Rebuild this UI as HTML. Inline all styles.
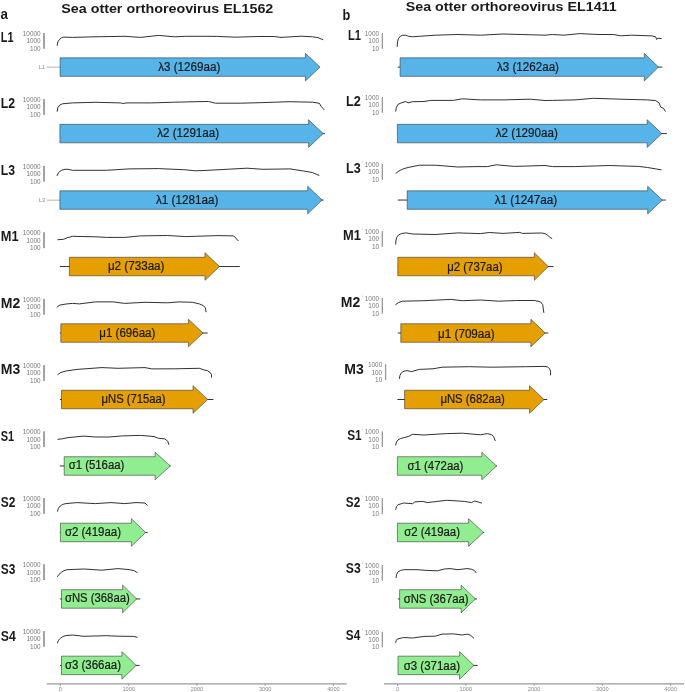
<!DOCTYPE html>
<html><head><meta charset="utf-8"><title>Sea otter orthoreovirus</title>
<style>
html,body{margin:0;padding:0;background:#fff;}
body{width:685px;height:692px;overflow:hidden;}
svg{display:block;will-change:transform;}
text{font-family:"Liberation Sans", sans-serif;}
</style></head><body>
<svg width="685" height="692" viewBox="0 0 685 692">
<rect x="0" y="0" width="685" height="692" fill="#fff"/>

<text x="0.6" y="18.6" font-size="14.6" font-weight="bold" fill="#1a1a1a" textLength="7.4" lengthAdjust="spacingAndGlyphs">a</text>
<text x="342.4" y="19.8" font-size="14.6" font-weight="bold" fill="#1a1a1a" textLength="7.8" lengthAdjust="spacingAndGlyphs">b</text>
<text x="61.3" y="13.1" font-size="13.2" font-weight="bold" fill="#1a1a1a" textLength="212" lengthAdjust="spacingAndGlyphs">Sea otter orthoreovirus EL1562</text>
<text x="405.7" y="10.7" font-size="13.2" font-weight="bold" fill="#1a1a1a" textLength="211" lengthAdjust="spacingAndGlyphs">Sea otter orthoreovirus EL1411</text>
<text x="0.8" y="41.60" font-size="14" font-weight="bold" fill="#1a1a1a" textLength="12.8" lengthAdjust="spacingAndGlyphs">L1</text>
<text x="40.6" y="36.00" font-size="6.4" fill="#777" text-anchor="end">10000</text>
<text x="40.6" y="43.30" font-size="6.4" fill="#777" text-anchor="end">1000</text>
<text x="40.6" y="50.60" font-size="6.4" fill="#777" text-anchor="end">100</text>
<rect x="43.10" y="33.00" width="1.8" height="15.8" fill="#999"/>
<polyline points="57.20,45.40 57.80,42.00 59.50,39.30 61.50,37.80 63.60,37.10 72.60,37.40 95.00,36.80 125.00,36.30 140.50,37.40 158.60,35.40 174.40,36.80 185.70,36.30 205.00,36.30 217.60,36.40 235.70,37.20 258.30,36.50 274.20,36.50 281.00,37.40 301.30,36.20 312.60,36.80 318.00,37.60 322.80,39.70" fill="none" stroke="#1a1a1a" stroke-width="0.9" stroke-linejoin="round" stroke-linecap="round"/>
<line x1="46.7" y1="67.20" x2="60" y2="67.20" stroke="#bbb" stroke-width="1.1"/>
<text x="45.0" y="69.20" font-size="5.6" fill="#888" text-anchor="end">L1</text>
<path d="M60.10,57.85 L305.40,57.85 L305.40,53.30 L320.00,67.10 L305.40,80.90 L305.40,76.35 L60.10,76.35 Z" fill="#56B4E9" stroke="#383838" stroke-width="0.6" stroke-linejoin="miter"/>
<text x="158.2" y="70.80" font-size="12" fill="#1a1a1a" stroke="#1a1a1a" stroke-width="0.22" textLength="62.10" lengthAdjust="spacingAndGlyphs">λ3 (1269aa)</text>
<text x="0.8" y="107.80" font-size="14" font-weight="bold" fill="#1a1a1a" textLength="14.3" lengthAdjust="spacingAndGlyphs">L2</text>
<text x="40.6" y="102.10" font-size="6.4" fill="#777" text-anchor="end">10000</text>
<text x="40.6" y="109.40" font-size="6.4" fill="#777" text-anchor="end">1000</text>
<text x="40.6" y="116.70" font-size="6.4" fill="#777" text-anchor="end">100</text>
<rect x="43.10" y="99.10" width="1.8" height="15.8" fill="#999"/>
<polyline points="57.20,111.20 57.80,107.80 59.50,105.20 62.40,103.80 72.60,102.90 95.20,102.30 120.50,102.90 122.40,103.50 126.90,102.90 151.80,102.90 174.40,102.20 205.00,101.50 208.60,101.50 215.40,103.20 240.20,103.20 262.90,102.60 290.00,101.70 312.60,102.20 319.40,103.30 321.20,106.50 324.00,109.60" fill="none" stroke="#1a1a1a" stroke-width="0.9" stroke-linejoin="round" stroke-linecap="round"/>
<line x1="59.9" y1="133.58" x2="324.9" y2="133.58" stroke="#333" stroke-width="1.0"/>
<path d="M59.90,124.33 L308.60,124.33 L308.60,119.78 L323.20,133.58 L308.60,147.38 L308.60,142.83 L59.90,142.83 Z" fill="#56B4E9" stroke="#383838" stroke-width="0.6" stroke-linejoin="miter"/>
<text x="157.2" y="136.78" font-size="12" fill="#1a1a1a" stroke="#1a1a1a" stroke-width="0.22" textLength="61.90" lengthAdjust="spacingAndGlyphs">λ2 (1291aa)</text>
<text x="0.8" y="174.80" font-size="14" font-weight="bold" fill="#1a1a1a" textLength="14.3" lengthAdjust="spacingAndGlyphs">L3</text>
<text x="40.6" y="168.90" font-size="6.4" fill="#777" text-anchor="end">10000</text>
<text x="40.6" y="176.20" font-size="6.4" fill="#777" text-anchor="end">1000</text>
<text x="40.6" y="183.50" font-size="6.4" fill="#777" text-anchor="end">100</text>
<rect x="43.10" y="165.90" width="1.8" height="15.8" fill="#999"/>
<polyline points="57.20,175.60 58.50,172.60 61.30,170.40 65.00,169.30 68.10,169.30 72.60,170.30 106.60,170.30 129.20,168.90 158.60,168.60 185.70,169.80 195.00,170.80 206.30,170.40 247.00,168.20 262.90,169.30 290.00,168.90 303.60,171.00 312.60,172.60 319.00,175.40" fill="none" stroke="#1a1a1a" stroke-width="0.9" stroke-linejoin="round" stroke-linecap="round"/>
<line x1="46.7" y1="200.16" x2="60" y2="200.16" stroke="#bbb" stroke-width="1.1"/>
<text x="45.0" y="202.16" font-size="5.6" fill="#888" text-anchor="end">L3</text>
<line x1="59.9" y1="200.06" x2="323.7" y2="200.06" stroke="#333" stroke-width="1.0"/>
<path d="M59.90,190.81 L307.70,190.81 L307.70,186.26 L322.10,200.06 L307.70,213.86 L307.70,209.31 L59.90,209.31 Z" fill="#56B4E9" stroke="#383838" stroke-width="0.6" stroke-linejoin="miter"/>
<text x="155.9" y="203.76" font-size="12" fill="#1a1a1a" stroke="#1a1a1a" stroke-width="0.22" textLength="62.40" lengthAdjust="spacingAndGlyphs">λ1 (1281aa)</text>
<text x="0.8" y="241.30" font-size="14" font-weight="bold" fill="#1a1a1a" textLength="17.8" lengthAdjust="spacingAndGlyphs">M1</text>
<text x="40.6" y="235.30" font-size="6.4" fill="#777" text-anchor="end">10000</text>
<text x="40.6" y="242.60" font-size="6.4" fill="#777" text-anchor="end">1000</text>
<text x="40.6" y="249.90" font-size="6.4" fill="#777" text-anchor="end">100</text>
<rect x="43.10" y="232.30" width="1.8" height="15.8" fill="#999"/>
<polyline points="57.90,239.70 63.60,239.30 67.00,237.80 72.60,236.30 95.20,236.80 106.60,237.40 124.70,237.40 140.50,235.90 167.60,235.50 185.70,236.60 195.20,236.30 217.90,235.60 233.70,235.90 238.20,240.80" fill="none" stroke="#1a1a1a" stroke-width="0.9" stroke-linejoin="round" stroke-linecap="round"/>
<line x1="59.9" y1="266.54" x2="239.8" y2="266.54" stroke="#333" stroke-width="1.0"/>
<path d="M69.40,257.29 L205.00,257.29 L205.00,252.74 L219.50,266.54 L205.00,280.34 L205.00,275.79 L69.40,275.79 Z" fill="#E69F00" stroke="#383838" stroke-width="0.6" stroke-linejoin="miter"/>
<text x="107.9" y="270.44" font-size="12" fill="#1a1a1a" stroke="#1a1a1a" stroke-width="0.22" textLength="56.60" lengthAdjust="spacingAndGlyphs">μ2 (733aa)</text>
<text x="0.8" y="307.80" font-size="14" font-weight="bold" fill="#1a1a1a" textLength="19.5" lengthAdjust="spacingAndGlyphs">M2</text>
<text x="40.6" y="301.90" font-size="6.4" fill="#777" text-anchor="end">10000</text>
<text x="40.6" y="309.20" font-size="6.4" fill="#777" text-anchor="end">1000</text>
<text x="40.6" y="316.50" font-size="6.4" fill="#777" text-anchor="end">100</text>
<rect x="43.10" y="298.90" width="1.8" height="15.8" fill="#999"/>
<polyline points="57.20,307.30 58.50,305.70 60.20,305.00 66.00,304.00 72.60,303.40 79.40,303.90 95.20,301.90 113.30,301.90 124.70,303.40 145.00,302.30 167.60,302.80 179.00,301.90 192.50,302.30 199.30,303.90 203.00,305.50 205.30,307.50 206.10,311.80" fill="none" stroke="#1a1a1a" stroke-width="0.9" stroke-linejoin="round" stroke-linecap="round"/>
<line x1="59.9" y1="333.02" x2="207.7" y2="333.02" stroke="#333" stroke-width="1.0"/>
<path d="M60.80,323.77 L188.40,323.77 L188.40,319.22 L203.00,333.02 L188.40,346.82 L188.40,342.27 L60.80,342.27 Z" fill="#E69F00" stroke="#383838" stroke-width="0.6" stroke-linejoin="miter"/>
<text x="99.3" y="337.32" font-size="12" fill="#1a1a1a" stroke="#1a1a1a" stroke-width="0.22" textLength="56.10" lengthAdjust="spacingAndGlyphs">μ1 (696aa)</text>
<text x="0.8" y="374.40" font-size="14" font-weight="bold" fill="#1a1a1a" textLength="19.5" lengthAdjust="spacingAndGlyphs">M3</text>
<text x="40.6" y="368.10" font-size="6.4" fill="#777" text-anchor="end">10000</text>
<text x="40.6" y="375.40" font-size="6.4" fill="#777" text-anchor="end">1000</text>
<text x="40.6" y="382.70" font-size="6.4" fill="#777" text-anchor="end">100</text>
<rect x="43.10" y="365.10" width="1.8" height="15.8" fill="#999"/>
<polyline points="57.90,374.60 60.50,372.60 65.80,371.00 77.10,369.40 102.00,367.60 117.90,368.30 145.00,367.60 151.80,368.90 174.40,368.80 199.30,368.30 203.80,369.90 207.50,370.70 210.30,372.60 211.40,374.50 211.60,377.30" fill="none" stroke="#1a1a1a" stroke-width="0.9" stroke-linejoin="round" stroke-linecap="round"/>
<line x1="59.9" y1="399.50" x2="213.4" y2="399.50" stroke="#333" stroke-width="1.0"/>
<path d="M61.50,390.25 L193.00,390.25 L193.00,385.70 L207.70,399.50 L193.00,413.30 L193.00,408.75 L61.50,408.75 Z" fill="#E69F00" stroke="#383838" stroke-width="0.6" stroke-linejoin="miter"/>
<text x="101.6" y="402.80" font-size="12" fill="#1a1a1a" stroke="#1a1a1a" stroke-width="0.22" textLength="64.00" lengthAdjust="spacingAndGlyphs">μNS (715aa)</text>
<text x="0.8" y="440.70" font-size="14" font-weight="bold" fill="#1a1a1a" textLength="13.4" lengthAdjust="spacingAndGlyphs">S1</text>
<text x="40.6" y="434.30" font-size="6.4" fill="#777" text-anchor="end">10000</text>
<text x="40.6" y="441.60" font-size="6.4" fill="#777" text-anchor="end">1000</text>
<text x="40.6" y="448.90" font-size="6.4" fill="#777" text-anchor="end">100</text>
<rect x="43.10" y="431.30" width="1.8" height="15.8" fill="#999"/>
<polyline points="57.90,439.30 62.40,438.80 68.10,437.60 83.90,436.10 95.20,437.00 108.80,437.00 122.40,435.90 140.50,435.40 154.10,436.50 158.60,438.30 164.30,438.80 166.50,440.00 167.80,441.50 168.80,444.50" fill="none" stroke="#1a1a1a" stroke-width="0.9" stroke-linejoin="round" stroke-linecap="round"/>
<line x1="59.9" y1="465.98" x2="170.6" y2="465.98" stroke="#333" stroke-width="1.0"/>
<path d="M64.20,456.73 L155.10,456.73 L155.10,452.18 L170.30,465.98 L155.10,479.78 L155.10,475.23 L64.20,475.23 Z" fill="#90EE90" stroke="#383838" stroke-width="0.6" stroke-linejoin="miter"/>
<text x="68.7" y="468.98" font-size="12" fill="#1a1a1a" stroke="#1a1a1a" stroke-width="0.22" textLength="55.70" lengthAdjust="spacingAndGlyphs">σ1 (516aa)</text>
<text x="0.8" y="507.40" font-size="14" font-weight="bold" fill="#1a1a1a" textLength="14.6" lengthAdjust="spacingAndGlyphs">S2</text>
<text x="40.6" y="501.00" font-size="6.4" fill="#777" text-anchor="end">10000</text>
<text x="40.6" y="508.30" font-size="6.4" fill="#777" text-anchor="end">1000</text>
<text x="40.6" y="515.60" font-size="6.4" fill="#777" text-anchor="end">100</text>
<rect x="43.10" y="498.00" width="1.8" height="15.8" fill="#999"/>
<polyline points="57.50,511.20 58.30,508.50 60.20,506.00 62.50,504.50 65.80,503.60 77.10,502.60 83.90,503.00 95.20,503.60 111.10,502.60 124.70,503.60 136.00,502.60 145.00,503.00 147.30,505.30" fill="none" stroke="#1a1a1a" stroke-width="0.9" stroke-linejoin="round" stroke-linecap="round"/>
<line x1="59.9" y1="532.46" x2="147.6" y2="532.46" stroke="#333" stroke-width="1.0"/>
<path d="M60.40,523.21 L131.40,523.21 L131.40,518.66 L145.50,532.46 L131.40,546.26 L131.40,541.71 L60.40,541.71 Z" fill="#90EE90" stroke="#383838" stroke-width="0.6" stroke-linejoin="miter"/>
<text x="64.9" y="535.96" font-size="12" fill="#1a1a1a" stroke="#1a1a1a" stroke-width="0.22" textLength="56.10" lengthAdjust="spacingAndGlyphs">σ2 (419aa)</text>
<text x="0.8" y="574.30" font-size="14" font-weight="bold" fill="#1a1a1a" textLength="14.6" lengthAdjust="spacingAndGlyphs">S3</text>
<text x="40.6" y="567.20" font-size="6.4" fill="#777" text-anchor="end">10000</text>
<text x="40.6" y="574.50" font-size="6.4" fill="#777" text-anchor="end">1000</text>
<text x="40.6" y="581.80" font-size="6.4" fill="#777" text-anchor="end">100</text>
<rect x="43.10" y="564.20" width="1.8" height="15.8" fill="#999"/>
<polyline points="57.50,576.50 59.00,574.40 61.30,572.40 64.00,570.70 67.00,569.70 83.90,569.00 102.00,570.20 117.90,568.60 129.20,569.60 134.50,570.80 137.10,572.60" fill="none" stroke="#1a1a1a" stroke-width="0.9" stroke-linejoin="round" stroke-linecap="round"/>
<line x1="59.9" y1="598.94" x2="140.2" y2="598.94" stroke="#333" stroke-width="1.0"/>
<path d="M61.50,589.69 L122.60,589.69 L122.60,585.14 L136.60,598.94 L122.60,612.74 L122.60,608.19 L61.50,608.19 Z" fill="#90EE90" stroke="#383838" stroke-width="0.6" stroke-linejoin="miter"/>
<text x="64.9" y="602.04" font-size="12" fill="#1a1a1a" stroke="#1a1a1a" stroke-width="0.22" textLength="64.90" lengthAdjust="spacingAndGlyphs">σNS (368aa)</text>
<text x="0.8" y="641.20" font-size="14" font-weight="bold" fill="#1a1a1a" textLength="15.0" lengthAdjust="spacingAndGlyphs">S4</text>
<text x="40.6" y="634.00" font-size="6.4" fill="#777" text-anchor="end">10000</text>
<text x="40.6" y="641.30" font-size="6.4" fill="#777" text-anchor="end">1000</text>
<text x="40.6" y="648.60" font-size="6.4" fill="#777" text-anchor="end">100</text>
<rect x="43.10" y="631.00" width="1.8" height="15.8" fill="#999"/>
<polyline points="57.50,642.90 58.50,640.30 60.20,638.40 62.80,636.60 65.80,635.60 72.60,635.00 83.90,636.30 106.60,635.70 117.90,636.20 133.70,636.40 137.10,637.30" fill="none" stroke="#1a1a1a" stroke-width="0.9" stroke-linejoin="round" stroke-linecap="round"/>
<line x1="59.9" y1="665.42" x2="139.6" y2="665.42" stroke="#333" stroke-width="1.0"/>
<path d="M61.50,656.17 L121.90,656.17 L121.90,651.62 L136.20,665.42 L121.90,679.22 L121.90,674.67 L61.50,674.67 Z" fill="#90EE90" stroke="#383838" stroke-width="0.6" stroke-linejoin="miter"/>
<text x="64.9" y="669.02" font-size="12" fill="#1a1a1a" stroke="#1a1a1a" stroke-width="0.22" textLength="56.10" lengthAdjust="spacingAndGlyphs">σ3 (366aa)</text>
<text x="347.90" y="39.70" font-size="14" font-weight="bold" fill="#1a1a1a" textLength="13.1" lengthAdjust="spacingAndGlyphs">L1</text>
<text x="379.0" y="36.00" font-size="6.4" fill="#777" text-anchor="end">1000</text>
<text x="379.0" y="43.30" font-size="6.4" fill="#777" text-anchor="end">100</text>
<text x="379.0" y="50.60" font-size="6.4" fill="#777" text-anchor="end">10</text>
<rect x="381.65" y="33.00" width="1.3" height="15.8" fill="#999"/>
<line x1="362.5" y1="30.10" x2="362.5" y2="32.10" stroke="#ccc" stroke-width="0.6"/>
<polyline points="397.20,46.50 397.50,42.00 398.30,38.80 400.20,36.30 402.50,35.30 405.80,35.20 408.50,36.30 412.60,36.80 419.40,36.30 435.20,35.20 457.90,34.50 480.50,35.20 503.10,34.00 521.20,34.50 545.00,35.20 552.60,34.50 563.90,35.20 579.80,33.60 597.90,34.50 613.70,34.50 620.50,35.80 631.80,35.20 652.20,35.90 655.60,36.80 656.70,39.50 657.80,38.10 661.20,38.60" fill="none" stroke="#1a1a1a" stroke-width="0.9" stroke-linejoin="round" stroke-linecap="round"/>
<line x1="397.8" y1="67.10" x2="662.4" y2="67.10" stroke="#333" stroke-width="1.0"/>
<path d="M400.10,57.85 L644.30,57.85 L644.30,53.30 L658.50,67.10 L644.30,80.90 L644.30,76.35 L400.10,76.35 Z" fill="#56B4E9" stroke="#383838" stroke-width="0.6" stroke-linejoin="miter"/>
<text x="496.9" y="71.40" font-size="12" fill="#1a1a1a" stroke="#1a1a1a" stroke-width="0.22" textLength="62.10" lengthAdjust="spacingAndGlyphs">λ3 (1262aa)</text>
<text x="346.00" y="106.20" font-size="14" font-weight="bold" fill="#1a1a1a" textLength="14.8" lengthAdjust="spacingAndGlyphs">L2</text>
<text x="379.0" y="100.00" font-size="6.4" fill="#777" text-anchor="end">1000</text>
<text x="379.0" y="107.30" font-size="6.4" fill="#777" text-anchor="end">100</text>
<text x="379.0" y="114.60" font-size="6.4" fill="#777" text-anchor="end">10</text>
<rect x="381.65" y="97.00" width="1.3" height="15.8" fill="#999"/>
<line x1="362.5" y1="94.10" x2="362.5" y2="96.10" stroke="#ccc" stroke-width="0.6"/>
<polyline points="395.70,111.20 396.30,107.50 397.90,104.40 401.30,102.90 405.80,101.50 408.10,102.80 412.60,101.70 423.90,101.50 430.70,100.40 453.30,100.40 462.40,98.80 480.50,99.90 503.10,99.90 530.30,99.20 545.00,100.50 552.60,100.40 575.20,99.90 593.30,98.30 620.50,99.20 647.60,99.90 655.60,100.60 659.00,102.80 660.80,107.20 663.50,108.30 665.30,111.20" fill="none" stroke="#1a1a1a" stroke-width="0.9" stroke-linejoin="round" stroke-linecap="round"/>
<line x1="397.4" y1="133.58" x2="666.9" y2="133.58" stroke="#333" stroke-width="1.0"/>
<path d="M397.40,124.33 L647.20,124.33 L647.20,119.78 L661.90,133.58 L647.20,147.38 L647.20,142.83 L397.40,142.83 Z" fill="#56B4E9" stroke="#383838" stroke-width="0.6" stroke-linejoin="miter"/>
<text x="495.8" y="137.38" font-size="12" fill="#1a1a1a" stroke="#1a1a1a" stroke-width="0.22" textLength="62.00" lengthAdjust="spacingAndGlyphs">λ2 (1290aa)</text>
<text x="346.10" y="172.80" font-size="14" font-weight="bold" fill="#1a1a1a" textLength="14.6" lengthAdjust="spacingAndGlyphs">L3</text>
<text x="379.0" y="167.00" font-size="6.4" fill="#777" text-anchor="end">1000</text>
<text x="379.0" y="174.30" font-size="6.4" fill="#777" text-anchor="end">100</text>
<text x="379.0" y="181.60" font-size="6.4" fill="#777" text-anchor="end">10</text>
<rect x="381.65" y="164.00" width="1.3" height="15.8" fill="#999"/>
<line x1="362.5" y1="161.10" x2="362.5" y2="163.10" stroke="#ccc" stroke-width="0.6"/>
<polyline points="396.10,173.40 397.50,171.80 400.20,170.30 404.00,168.60 408.10,167.50 419.40,165.20 435.20,165.20 457.90,167.00 476.00,166.60 487.30,166.60 496.30,164.80 514.40,166.40 545.00,165.50 552.60,166.60 575.20,166.60 609.20,165.50 638.60,166.40 647.60,167.50 661.20,169.80" fill="none" stroke="#1a1a1a" stroke-width="0.9" stroke-linejoin="round" stroke-linecap="round"/>
<line x1="397.8" y1="200.06" x2="665.8" y2="200.06" stroke="#333" stroke-width="1.0"/>
<path d="M407.20,190.81 L647.70,190.81 L647.70,186.26 L662.40,200.06 L647.70,213.86 L647.70,209.31 L407.20,209.31 Z" fill="#56B4E9" stroke="#383838" stroke-width="0.6" stroke-linejoin="miter"/>
<text x="494.7" y="204.06" font-size="12" fill="#1a1a1a" stroke="#1a1a1a" stroke-width="0.22" textLength="62.50" lengthAdjust="spacingAndGlyphs">λ1 (1247aa)</text>
<text x="343.10" y="239.70" font-size="14" font-weight="bold" fill="#1a1a1a" textLength="17.9" lengthAdjust="spacingAndGlyphs">M1</text>
<text x="379.0" y="234.00" font-size="6.4" fill="#777" text-anchor="end">1000</text>
<text x="379.0" y="241.30" font-size="6.4" fill="#777" text-anchor="end">100</text>
<text x="379.0" y="248.60" font-size="6.4" fill="#777" text-anchor="end">10</text>
<rect x="381.65" y="231.00" width="1.3" height="15.8" fill="#999"/>
<line x1="362.5" y1="228.10" x2="362.5" y2="230.10" stroke="#ccc" stroke-width="0.6"/>
<polyline points="395.70,244.20 396.00,240.00 396.80,237.20 398.50,235.00 401.30,233.60 405.80,232.90 412.60,234.00 435.20,234.50 457.90,232.90 480.50,233.60 489.50,232.50 503.10,233.40 519.60,232.40 522.60,233.40 541.50,233.00 545.00,233.60 547.50,235.00 549.60,237.20 551.80,238.40" fill="none" stroke="#1a1a1a" stroke-width="0.9" stroke-linejoin="round" stroke-linecap="round"/>
<line x1="397.8" y1="266.54" x2="553.5" y2="266.54" stroke="#333" stroke-width="1.0"/>
<path d="M397.80,257.29 L534.30,257.29 L534.30,252.74 L548.30,266.54 L534.30,280.34 L534.30,275.79 L397.80,275.79 Z" fill="#E69F00" stroke="#383838" stroke-width="0.6" stroke-linejoin="miter"/>
<text x="447.2" y="270.64" font-size="12" fill="#1a1a1a" stroke="#1a1a1a" stroke-width="0.22" textLength="55.40" lengthAdjust="spacingAndGlyphs">μ2 (737aa)</text>
<text x="340.70" y="306.50" font-size="14" font-weight="bold" fill="#1a1a1a" textLength="19.5" lengthAdjust="spacingAndGlyphs">M2</text>
<text x="379.0" y="300.90" font-size="6.4" fill="#777" text-anchor="end">1000</text>
<text x="379.0" y="308.20" font-size="6.4" fill="#777" text-anchor="end">100</text>
<text x="379.0" y="315.50" font-size="6.4" fill="#777" text-anchor="end">10</text>
<rect x="381.65" y="297.90" width="1.3" height="15.8" fill="#999"/>
<line x1="362.5" y1="295.00" x2="362.5" y2="297.00" stroke="#ccc" stroke-width="0.6"/>
<polyline points="395.70,304.60 398.50,302.60 402.40,301.20 423.90,300.70 451.10,299.40 462.40,300.70 480.50,300.00 498.60,301.20 516.70,300.50 534.80,300.50 540.50,301.90 542.70,304.60 543.80,312.50" fill="none" stroke="#1a1a1a" stroke-width="0.9" stroke-linejoin="round" stroke-linecap="round"/>
<line x1="397.8" y1="333.02" x2="548.3" y2="333.02" stroke="#333" stroke-width="1.0"/>
<path d="M400.80,323.77 L530.90,323.77 L530.90,319.22 L545.20,333.02 L530.90,346.82 L530.90,342.27 L400.80,342.27 Z" fill="#E69F00" stroke="#383838" stroke-width="0.6" stroke-linejoin="miter"/>
<text x="438.1" y="337.62" font-size="12" fill="#1a1a1a" stroke="#1a1a1a" stroke-width="0.22" textLength="56.60" lengthAdjust="spacingAndGlyphs">μ1 (709aa)</text>
<text x="344.30" y="373.70" font-size="14" font-weight="bold" fill="#1a1a1a" textLength="19.5" lengthAdjust="spacingAndGlyphs">M3</text>
<text x="382.2" y="367.30" font-size="6.4" fill="#777" text-anchor="end">1000</text>
<text x="382.2" y="374.60" font-size="6.4" fill="#777" text-anchor="end">100</text>
<text x="382.2" y="381.90" font-size="6.4" fill="#777" text-anchor="end">10</text>
<rect x="384.95" y="364.30" width="1.3" height="15.8" fill="#999"/>
<line x1="365.8" y1="361.40" x2="365.8" y2="363.40" stroke="#ccc" stroke-width="0.6"/>
<polyline points="399.50,378.50 399.90,375.50 401.30,372.80 404.00,371.20 407.00,370.60 411.50,371.60 419.40,369.40 433.00,368.80 442.00,367.20 469.20,366.70 491.80,367.20 525.70,366.70 545.00,366.40 547.50,367.00 549.50,368.50 550.50,371.00 550.60,374.90" fill="none" stroke="#1a1a1a" stroke-width="0.9" stroke-linejoin="round" stroke-linecap="round"/>
<line x1="397.4" y1="399.50" x2="547.2" y2="399.50" stroke="#333" stroke-width="1.0"/>
<path d="M404.60,390.25 L529.50,390.25 L529.50,385.70 L544.00,399.50 L529.50,413.30 L529.50,408.75 L404.60,408.75 Z" fill="#E69F00" stroke="#383838" stroke-width="0.6" stroke-linejoin="miter"/>
<text x="440.4" y="403.10" font-size="12" fill="#1a1a1a" stroke="#1a1a1a" stroke-width="0.22" textLength="64.50" lengthAdjust="spacingAndGlyphs">μNS (682aa)</text>
<text x="347.20" y="439.70" font-size="14" font-weight="bold" fill="#1a1a1a" textLength="14.5" lengthAdjust="spacingAndGlyphs">S1</text>
<text x="379.0" y="434.30" font-size="6.4" fill="#777" text-anchor="end">1000</text>
<text x="379.0" y="441.60" font-size="6.4" fill="#777" text-anchor="end">100</text>
<text x="379.0" y="448.90" font-size="6.4" fill="#777" text-anchor="end">10</text>
<rect x="381.65" y="431.30" width="1.3" height="15.8" fill="#999"/>
<line x1="362.5" y1="428.40" x2="362.5" y2="430.40" stroke="#ccc" stroke-width="0.6"/>
<polyline points="395.70,445.00 396.40,442.00 397.90,440.00 400.50,438.60 403.60,437.70 408.10,436.60 412.60,434.30 423.90,435.00 446.60,433.60 462.40,433.20 480.50,434.80 487.30,433.60 491.80,434.80 493.80,437.00 495.20,440.60" fill="none" stroke="#1a1a1a" stroke-width="0.9" stroke-linejoin="round" stroke-linecap="round"/>
<line x1="397.4" y1="465.98" x2="497.0" y2="465.98" stroke="#333" stroke-width="1.0"/>
<path d="M397.40,456.73 L481.80,456.73 L481.80,452.18 L496.50,465.98 L481.80,479.78 L481.80,475.23 L397.40,475.23 Z" fill="#90EE90" stroke="#383838" stroke-width="0.6" stroke-linejoin="miter"/>
<text x="407.5" y="469.58" font-size="12" fill="#1a1a1a" stroke="#1a1a1a" stroke-width="0.22" textLength="55.90" lengthAdjust="spacingAndGlyphs">σ1 (472aa)</text>
<text x="345.80" y="506.80" font-size="14" font-weight="bold" fill="#1a1a1a" textLength="14.4" lengthAdjust="spacingAndGlyphs">S2</text>
<text x="379.0" y="501.10" font-size="6.4" fill="#777" text-anchor="end">1000</text>
<text x="379.0" y="508.40" font-size="6.4" fill="#777" text-anchor="end">100</text>
<text x="379.0" y="515.70" font-size="6.4" fill="#777" text-anchor="end">10</text>
<rect x="381.65" y="498.10" width="1.3" height="15.8" fill="#999"/>
<line x1="362.5" y1="495.20" x2="362.5" y2="497.20" stroke="#ccc" stroke-width="0.6"/>
<polyline points="395.70,509.40 396.50,506.50 397.90,504.80 403.60,503.00 412.60,503.70 414.90,501.90 422.80,501.40 427.30,502.60 446.60,500.30 464.70,501.40 471.40,502.60 474.80,501.00 481.60,503.00" fill="none" stroke="#1a1a1a" stroke-width="0.9" stroke-linejoin="round" stroke-linecap="round"/>
<line x1="397.4" y1="532.46" x2="484.0" y2="532.46" stroke="#333" stroke-width="1.0"/>
<path d="M397.40,523.21 L468.60,523.21 L468.60,518.66 L483.40,532.46 L468.60,546.26 L468.60,541.71 L397.40,541.71 Z" fill="#90EE90" stroke="#383838" stroke-width="0.6" stroke-linejoin="miter"/>
<text x="404.2" y="536.06" font-size="12" fill="#1a1a1a" stroke="#1a1a1a" stroke-width="0.22" textLength="55.80" lengthAdjust="spacingAndGlyphs">σ2 (419aa)</text>
<text x="345.80" y="573.30" font-size="14" font-weight="bold" fill="#1a1a1a" textLength="14.9" lengthAdjust="spacingAndGlyphs">S3</text>
<text x="379.0" y="568.00" font-size="6.4" fill="#777" text-anchor="end">1000</text>
<text x="379.0" y="575.30" font-size="6.4" fill="#777" text-anchor="end">100</text>
<text x="379.0" y="582.60" font-size="6.4" fill="#777" text-anchor="end">10</text>
<rect x="381.65" y="565.00" width="1.3" height="15.8" fill="#999"/>
<line x1="362.5" y1="562.10" x2="362.5" y2="564.10" stroke="#ccc" stroke-width="0.6"/>
<polyline points="396.10,577.60 396.60,574.50 397.90,572.00 400.50,570.50 403.60,569.70 417.10,569.70 426.20,570.40 437.50,570.80 444.30,569.00 450.00,568.60 457.90,569.70 466.90,568.60 471.50,569.20 474.50,570.60 476.00,572.60" fill="none" stroke="#1a1a1a" stroke-width="0.9" stroke-linejoin="round" stroke-linecap="round"/>
<line x1="397.8" y1="598.94" x2="477.0" y2="598.94" stroke="#333" stroke-width="1.0"/>
<path d="M399.60,589.69 L461.20,589.69 L461.20,585.14 L475.40,598.94 L461.20,612.74 L461.20,608.19 L399.60,608.19 Z" fill="#90EE90" stroke="#383838" stroke-width="0.6" stroke-linejoin="miter"/>
<text x="403.7" y="602.64" font-size="12" fill="#1a1a1a" stroke="#1a1a1a" stroke-width="0.22" textLength="64.90" lengthAdjust="spacingAndGlyphs">σNS (367aa)</text>
<text x="345.80" y="640.00" font-size="14" font-weight="bold" fill="#1a1a1a" textLength="14.4" lengthAdjust="spacingAndGlyphs">S4</text>
<text x="379.0" y="634.60" font-size="6.4" fill="#777" text-anchor="end">1000</text>
<text x="379.0" y="641.90" font-size="6.4" fill="#777" text-anchor="end">100</text>
<text x="379.0" y="649.20" font-size="6.4" fill="#777" text-anchor="end">10</text>
<rect x="381.65" y="631.60" width="1.3" height="15.8" fill="#999"/>
<line x1="362.5" y1="628.70" x2="362.5" y2="630.70" stroke="#ccc" stroke-width="0.6"/>
<polyline points="395.70,642.50 396.30,640.50 397.20,639.10 403.60,637.50 412.60,638.00 423.90,636.40 435.20,636.20 442.00,634.10 453.30,633.90 462.40,635.00 466.90,634.10 470.50,635.20 473.70,638.00" fill="none" stroke="#1a1a1a" stroke-width="0.9" stroke-linejoin="round" stroke-linecap="round"/>
<line x1="397.8" y1="665.42" x2="477.7" y2="665.42" stroke="#333" stroke-width="1.0"/>
<path d="M398.00,656.17 L459.60,656.17 L459.60,651.62 L473.90,665.42 L459.60,679.22 L459.60,674.67 L398.00,674.67 Z" fill="#90EE90" stroke="#383838" stroke-width="0.6" stroke-linejoin="miter"/>
<text x="403.7" y="669.82" font-size="12" fill="#1a1a1a" stroke="#1a1a1a" stroke-width="0.22" textLength="56.30" lengthAdjust="spacingAndGlyphs">σ3 (371aa)</text>
<line x1="46.8" y1="683.9" x2="346.7" y2="683.9" stroke="#999" stroke-width="1.1"/>
<line x1="60.40" y1="684.2" x2="60.40" y2="686.0" stroke="#444" stroke-width="0.5"/>
<text x="60.40" y="691.0" font-size="5.6" fill="#888" text-anchor="middle">0</text>
<line x1="128.65" y1="684.2" x2="128.65" y2="686.0" stroke="#444" stroke-width="0.5"/>
<text x="128.65" y="691.0" font-size="5.6" fill="#888" text-anchor="middle">1000</text>
<line x1="196.90" y1="684.2" x2="196.90" y2="686.0" stroke="#444" stroke-width="0.5"/>
<text x="196.90" y="691.0" font-size="5.6" fill="#888" text-anchor="middle">2000</text>
<line x1="265.15" y1="684.2" x2="265.15" y2="686.0" stroke="#444" stroke-width="0.5"/>
<text x="265.15" y="691.0" font-size="5.6" fill="#888" text-anchor="middle">3000</text>
<line x1="333.40" y1="684.2" x2="333.40" y2="686.0" stroke="#444" stroke-width="0.5"/>
<text x="333.40" y="691.0" font-size="5.6" fill="#888" text-anchor="middle">4000</text>
<line x1="384.1" y1="683.9" x2="684.0" y2="683.9" stroke="#999" stroke-width="1.1"/>
<line x1="397.60" y1="684.2" x2="397.60" y2="686.0" stroke="#444" stroke-width="0.5"/>
<text x="397.60" y="691.0" font-size="5.6" fill="#888" text-anchor="middle">0</text>
<line x1="465.85" y1="684.2" x2="465.85" y2="686.0" stroke="#444" stroke-width="0.5"/>
<text x="465.85" y="691.0" font-size="5.6" fill="#888" text-anchor="middle">1000</text>
<line x1="534.10" y1="684.2" x2="534.10" y2="686.0" stroke="#444" stroke-width="0.5"/>
<text x="534.10" y="691.0" font-size="5.6" fill="#888" text-anchor="middle">2000</text>
<line x1="602.35" y1="684.2" x2="602.35" y2="686.0" stroke="#444" stroke-width="0.5"/>
<text x="602.35" y="691.0" font-size="5.6" fill="#888" text-anchor="middle">3000</text>
<line x1="670.60" y1="684.2" x2="670.60" y2="686.0" stroke="#444" stroke-width="0.5"/>
<text x="670.60" y="691.0" font-size="5.6" fill="#888" text-anchor="middle">4000</text>
</svg>
</body></html>
